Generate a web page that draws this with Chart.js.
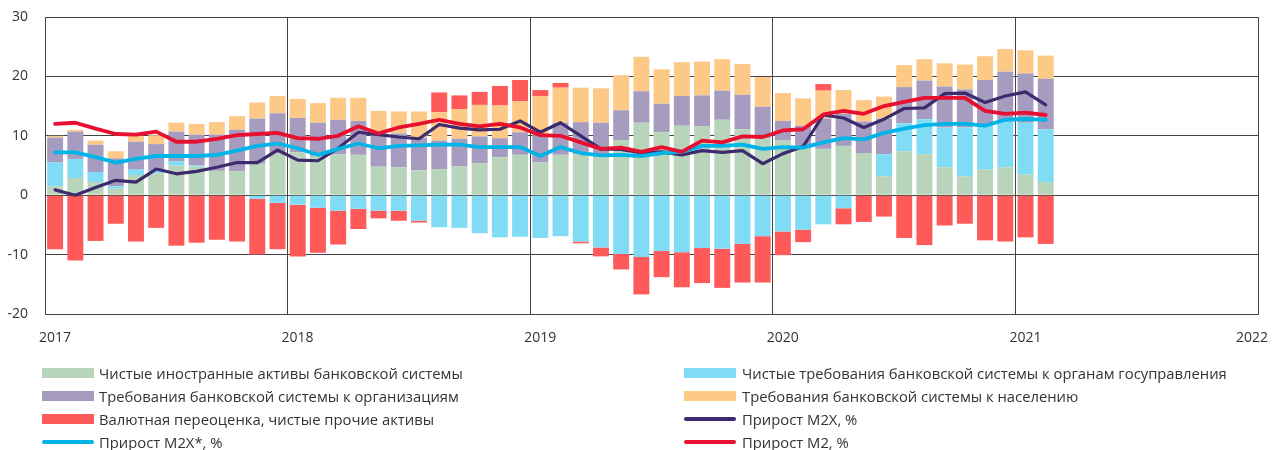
<!DOCTYPE html>
<html>
<head>
<meta charset="utf-8">
<script src="https://cdn.jsdelivr.net/npm/chart.js@4.4.1/dist/chart.umd.min.js"></script>
<style>
html,body{margin:0;padding:0;background:#fff;width:1272px;height:450px;overflow:hidden;font-family:"Open Sans",sans-serif;}
#wrap{position:absolute;left:0;top:0;width:1272px;height:355px;}
#legend{position:absolute;left:0;top:0;width:1272px;height:450px;}
.item{position:absolute;height:20px;display:flex;align-items:center;font-size:14.8px;color:#333;white-space:nowrap;}
.sw{display:inline-block;width:52px;flex:none;}
</style>
</head>
<body>
<div id="wrap"><canvas id="c" width="1272" height="355"></canvas></div>
<div id="legend"></div>
<script>
// Year tick labels (one every 12 months)
const yearLabels = ['2017', '2018', '2019', '2020', '2021', '2022'];

// Monthly contributions, Jan 2017 – Feb 2021, p.p.
const foreignAssets = [1.5,2.9,2.2,1.1,3.4,3.7,5.0,4.8,4.1,4.0,5.3,7.0,
  7.2,6.6,6.9,6.8,4.8,4.7,4.2,4.4,4.9,5.4,6.4,6.8,
  5.5,6.8,6.9,6.6,9.3,12.2,10.6,11.7,11.6,12.7,11.1,9.6,
  9.2,8.2,7.8,8.3,7.1,3.2,7.4,6.9,4.7,3.2,4.3,4.7,
  3.5,2.2];
const govClaims = [4.0,3.2,1.7,0.4,0.9,0.4,0.7,0.2,0,0,-0.6,-1.3,
  -1.6,-2.1,-2.6,-2.3,-2.6,-2.6,-4.3,-5.4,-5.5,-6.4,-7.1,-7.0,
  -7.2,-6.9,-7.8,-8.8,-9.9,-10.4,-9.4,-9.6,-8.9,-9.0,-8.2,-6.9,
  -6.1,-5.8,-4.9,-2.2,0,3.7,4.7,5.9,6.7,8.2,7.5,7.7,
  8.7,8.9];
const orgClaims = [4.2,4.6,4.6,4.7,4.7,4.5,5.0,5.2,6.1,7.0,7.6,6.8,
  5.8,5.6,5.8,5.7,5.6,5.7,5.5,4.8,4.6,4.5,3.2,3.8,
  4.6,5.4,5.4,5.6,5.0,5.3,4.8,5.0,5.2,4.9,5.8,5.3,
  3.3,3.5,5.1,5.4,5.3,6.0,6.1,6.5,6.9,6.4,7.6,8.4,
  8.3,8.5];
const householdClaims = [0.3,0.3,0.7,1.2,1.0,1.5,1.5,1.8,2.1,2.3,2.7,2.9,
  3.2,3.3,3.7,3.9,3.8,3.7,4.4,4.8,5.0,5.3,5.5,5.2,
  6.6,5.9,5.8,5.8,5.9,5.8,5.8,5.7,5.7,5.3,5.2,5.0,
  4.7,4.6,4.7,4.0,3.6,3.7,3.7,3.6,3.9,4.2,4.0,3.8,
  3.9,3.9];
const fxRevaluation = [-9.1,-11.0,-7.7,-4.8,-7.8,-5.5,-8.5,-8.0,-7.5,-7.8,-9.4,-7.8,
  -8.7,-7.6,-5.7,-3.4,-1.3,-1.7,-0.3,3.3,2.3,2.2,3.3,3.6,
  1.0,0.8,-0.3,-1.5,-2.6,-6.3,-4.4,-5.9,-5.9,-6.6,-6.5,-7.8,
  -4.0,-2.1,1.1,-2.7,-4.5,-3.6,-7.2,-8.4,-5.1,-4.8,-7.6,-7.8,
  -7.1,-8.2];

// Growth rates, %
const m2x = [0.9,0.0,1.3,2.5,2.2,4.4,3.6,4.0,4.7,5.5,5.5,7.6,
  5.9,5.8,7.9,10.6,10.2,9.8,9.5,11.9,11.3,11.0,11.1,12.5,
  10.6,12.2,10.0,7.8,7.7,7.1,7.3,6.8,7.5,7.2,7.5,5.3,
  7.0,8.2,13.5,13.0,11.4,12.8,14.6,14.7,17.1,17.2,15.6,16.7,
  17.4,15.2];
const m2xStar = [7.2,7.2,6.4,5.5,6.1,6.6,6.6,6.6,6.8,7.5,8.3,8.7,
  7.9,6.8,7.8,8.7,7.9,8.3,8.4,8.5,8.5,8.1,8.1,8.1,
  6.6,8.1,7.1,6.7,6.8,6.6,7.1,7.3,8.3,8.3,8.5,7.8,
  8.1,8.0,8.9,9.6,9.4,10.5,11.2,11.8,12.0,12.0,11.7,12.7,
  12.8,12.7];
const m2 = [12.0,12.2,11.2,10.3,10.2,10.7,9.0,9.0,9.5,10.1,10.3,10.5,
  9.6,9.5,10.0,11.6,10.4,11.4,12.0,12.7,12.0,11.6,12.0,11.4,
  10.1,10.0,8.9,7.8,8.0,7.3,8.1,7.3,9.2,8.9,9.9,9.8,
  10.9,11.1,13.6,14.2,13.7,15.0,15.7,16.4,16.4,16.4,14.2,13.7,
  13.9,13.5];

const seriesNames = [
  'Чистые иностранные активы банковской системы',
  'Чистые требования банковской системы к органам госуправления',
  'Требования банковской системы к организациям',
  'Требования банковской системы к населению',
  'Валютная переоценка, чистые прочие активы',
  'Прирост М2Х, %',
  'Прирост М2Х*, %',
  'Прирост М2, %'
];
const colors = ['#b8d4ba', '#80dcf5', '#a69cc0', '#fdc986', '#ff5a5a', '#3d2b6e', '#00b4e8', '#e81030'];

// month index -> position at middle of the month
const pts = arr => arr.map((v, i) => ({x: i + 0.5, y: v}));

const barDs = (k, arr) => ({
  type: 'bar', label: seriesNames[k], data: pts(arr),
  backgroundColor: colors[k], borderWidth: 0,
  barPercentage: 0.79, categoryPercentage: 1,
  order: 5, yAxisID: 'y'
});
const lineDs = (k, arr, w, ord) => ({
  type: 'line', label: seriesNames[k], data: pts(arr),
  borderColor: colors[k], backgroundColor: colors[k], borderWidth: w,
  pointRadius: 0, tension: 0, fill: false, order: ord, yAxisID: 'y2',
  borderJoinStyle: 'round', borderCapStyle: 'round'
});

const gridColor = '#444';
const tickFont = {family: '"Open Sans", sans-serif', size: 14};

new Chart(document.getElementById('c'), {
  data: {
    datasets: [
      barDs(0, foreignAssets),
      barDs(1, govClaims),
      barDs(2, orgClaims),
      barDs(3, householdClaims),
      barDs(4, fxRevaluation),
      lineDs(5, m2x, 3.2, 2),
      lineDs(6, m2xStar, 3.8, 1),
      lineDs(7, m2, 3.8, 0)
    ]
  },
  options: {
    responsive: false,
    animation: false,
    devicePixelRatio: 1,
    layout: {padding: {left: 0, right: 14, top: 17, bottom: 0}},
    plugins: {legend: {display: false}, tooltip: {enabled: false}},
    scales: {
      x: {
        type: 'linear', min: 0, max: yearLabels.length * 12 - 12, stacked: true, offset: false,
        afterBuildTicks: s => { s.ticks = yearLabels.map((_, i) => ({value: i * 12})); },
        afterFit: s => { s.height = 41; s.paddingLeft = 0; s.paddingRight = 0; },
        ticks: {
          autoSkip: false, maxRotation: 0, labelOffset: 10, padding: 16,
          color: '#333', font: tickFont,
          callback: v => {
            const i = Math.round(v / 12);
            return i === yearLabels.length - 1 ? yearLabels[i] + '\u2007\u2007\u2007\u2007' : yearLabels[i];
          }
        },
        grid: {color: gridColor, lineWidth: 1, drawTicks: false, offset: false},
        border: {display: true, color: gridColor, width: 1}
      },
      y: {
        stacked: true, min: -20, max: 30,
        afterFit: s => { s.width = 45; s.paddingTop = 0; s.paddingBottom = 0; },
        ticks: {stepSize: 10, padding: 17, color: '#333', font: tickFont},
        grid: {color: gridColor, lineWidth: 1, drawTicks: false},
        border: {display: true, color: gridColor, width: 1}
      },
      y2: {display: false, min: -20, max: 30}
    }
  }
});

// Legend (two columns, as in the original)
const legendLayout = [
  {k: 0, col: 0, row: 0, kind: 'box'},
  {k: 1, col: 1, row: 0, kind: 'box'},
  {k: 2, col: 0, row: 1, kind: 'box'},
  {k: 3, col: 1, row: 1, kind: 'box'},
  {k: 4, col: 0, row: 2, kind: 'box'},
  {k: 5, col: 1, row: 2, kind: 'line'},
  {k: 6, col: 0, row: 3, kind: 'line'},
  {k: 7, col: 1, row: 3, kind: 'line'}
];
const colX = [42, 684], gaps = [5, 6];
const lg = document.getElementById('legend');
legendLayout.forEach(it => {
  const d = document.createElement('div');
  d.className = 'item';
  d.style.left = colX[it.col] + 'px';
  d.style.top = (373 + it.row * 23 - 10) + 'px';
  const sw = document.createElement('span');
  sw.className = 'sw';
  sw.style.background = colors[it.k];
  sw.style.height = it.kind === 'box' ? '10px' : '4px';
  if (it.kind === 'line') sw.style.borderRadius = '2px';
  sw.style.marginRight = gaps[it.col] + 'px';
  const t = document.createElement('span');
  t.textContent = seriesNames[it.k];
  d.appendChild(sw); d.appendChild(t);
  lg.appendChild(d);
});
</script>
</body>
</html>
